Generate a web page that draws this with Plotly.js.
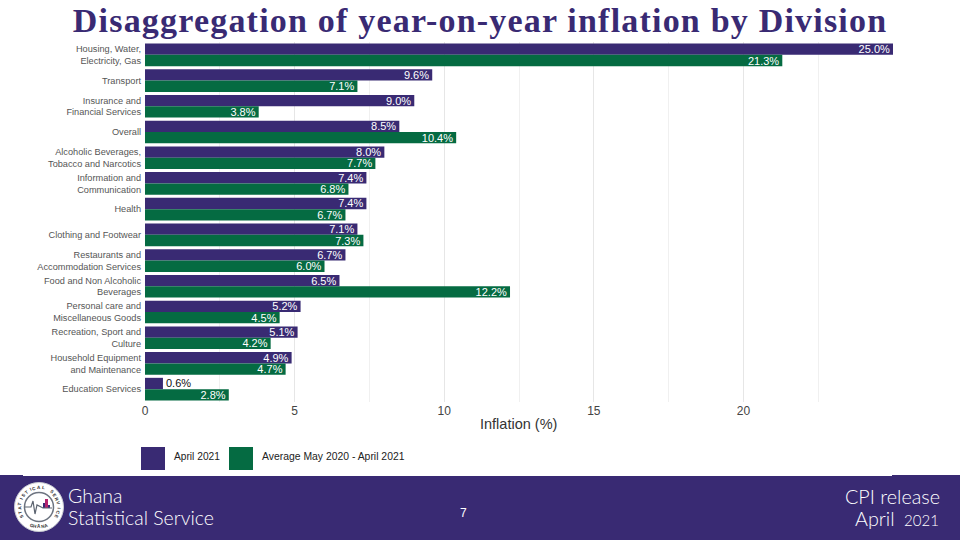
<!DOCTYPE html>
<html><head><meta charset="utf-8">
<script src="https://cdn.plot.ly/plotly-3.0.1.min.js"></script>
<style>html,body{margin:0;padding:0;background:#fff}
g.annotation[data-index="0"] text{letter-spacing:1.2px}</style></head>
<body><div id="chart" style="width:960px;height:540px"></div>
<script>
var categories = ["Housing, Water,<br>Electricity, Gas","Transport","Insurance and<br>Financial Services","Overall","Alcoholic Beverages,<br>Tobacco and Narcotics","Information and<br>Communication","Health","Clothing and Footwear","Restaurants and<br>Accommodation Services","Food and Non Alcoholic<br>Beverages","Personal care and<br>Miscellaneous Goods","Recreation, Sport and<br>Culture","Household Equipment<br>and Maintenance","Education Services"];
var april2021 = [25.0,9.6,9.0,8.5,8.0,7.4,7.4,7.1,6.7,6.5,5.2,5.1,4.9,0.6];
var average12m = [21.3,7.1,3.8,10.4,7.7,6.8,6.7,7.3,6.0,12.2,4.5,4.2,4.7,2.8];
var seriesNames = ["April 2021","Average May 2020 - April 2021"];
var xTicks = [0,5,10,15,20];
var xMinorTicks = [2.5,7.5,12.5,17.5,22.5];
var purple = "#392a73", green = "#056b42";
var W = 960, H = 540, mL = 145, mR = 67, mT = 42, mB = 138;
// page pixels -> Plotly paper fractions (paper spans the plot area)
function px(x){return (x-mL)/(W-mL-mR);}
function py(y){return (H-mB-y)/(H-mT-mB);}
function bar(vals,name,color){
  return {type:"bar",orientation:"h",y:categories,x:vals,name:name,showlegend:false,
    marker:{color:color,line:{width:0}},cliponaxis:false,
    text:vals.map(function(v){return v.toFixed(1)+"%";}),
    textposition:vals.map(function(v){return v<1?"outside":"inside";}),
    insidetextanchor:"end",constraintext:"none",textangle:0,
    insidetextfont:{family:"Liberation Sans",size:11,color:"#ffffff"},
    outsidetextfont:{family:"Liberation Sans",size:11,color:"#111111"}};
}
function rect(x0,x1,y0,y1,fill,above){
  return {type:"rect",xref:"paper",yref:"paper",x0:px(x0),x1:px(x1),y0:py(y1),y1:py(y0),fillcolor:fill,line:{width:0},layer:above?"above":"below"};
}
function circ(cx,cy,r,fill,line,lw){
  return {type:"circle",xref:"paper",yref:"paper",x0:px(cx-r),x1:px(cx+r),y0:py(cy+r),y1:py(cy-r),fillcolor:fill,line:{color:line,width:lw},layer:"above"};
}
var shapes = [
  rect(0,960,476,540,purple,true),
  rect(0,23,475,476,purple,true),
  rect(892,960,475,476,purple,true),
  rect(141,165,447,470,purple,true),
  rect(229,253,447,470,green,true),
  circ(39,507,24.5,"#ffffff","#c9ccd2",1),
  circ(39,507,14.5,"#ffffff","#6d7480",1.5),
  rect(43,45,503,508,"#392a73",true),
  rect(45,48,499,508,"#b5246e",true),
  rect(48,50,505,508,"#392a73",true)
];
var pulse = [[24.5,507],[31,507],[33,501],[35,514],[37,505],[43,508],[52,508]];
shapes.push({type:"path",xref:"paper",yref:"paper",layer:"above",line:{color:"#5c6470",width:1.2},
  path:pulse.map(function(p,i){return (i?"L":"M")+px(p[0])+","+py(p[1]);}).join(" ")});
function ann(text,x,y,size,color,family,anchor,weight,angle){
  return {text:text,xref:"paper",yref:"paper",x:px(x),y:py(y),xanchor:anchor||"left",yanchor:"middle",showarrow:false,align:anchor||"left",
    textangle:angle||0,borderpad:0,
    font:{size:size,color:color,family:family||"Liberation Sans",weight:weight||400}};
}
var annotations = [
  ann("Disaggregation of year-on-year inflation by Division",480,21,34,purple,"Liberation Serif","center",700),
  ann("Inflation (%)",518,424,14.5,"#333333","Liberation Sans","center"),
  ann(seriesNames[0],173,457,10.2,"#222222"),
  ann(seriesNames[1],261,457,10.4,"#222222"),
  ann("Ghana",67,495,19.5,"#ffffff","Lato",null,300),
  ann("Statistical Service",67,517,19.5,"#ffffff","Lato",null,300),
  ann("7",463,513,12,"#ffffff","Liberation Sans","center"),
  ann("CPI release",941,496,19.8,"#ffffff","Lato","right",300),
  ann("April <span style=\"font-size:15px\"> 2021</span>",940,518,19.8,"#ffffff","Lato","right",300)
];
// emblem lettering around the ring
function ring(word,startDeg,stepDeg,r,bottom){
  word.split("").forEach(function(ch,i){
    if(ch===" ")return;
    var d=startDeg+stepDeg*i, a=d*Math.PI/180;
    annotations.push(ann(ch,39+r*Math.sin(a),507-r*Math.cos(a),4.6,"#333333","Liberation Sans","center",700,bottom?d-180:d));
  });
}
ring("STATISTICAL SERVICE",-120,13.3,19.5,false);
ring("GHANA",202,-11,19.5,true);
var layout = {width:W,height:H,margin:{l:mL,r:mR,t:mT,b:mB},paper_bgcolor:"#fff",plot_bgcolor:"#fff",
  barmode:"group",bargap:0.12,bargroupgap:0,showlegend:false,
  xaxis:{range:[0,25],tickmode:"array",tickvals:xTicks,ticktext:xTicks.map(String),showgrid:true,gridcolor:"#e6e6e6",gridwidth:1,zeroline:false,showline:false,ticks:"",
    minor:{tickmode:"array",tickvals:xMinorTicks,showgrid:true,gridcolor:"#f0f0f0",gridwidth:1,ticks:""},
    tickfont:{family:"Liberation Sans",size:12,color:"#444444"}},
  yaxis:{autorange:"reversed",showgrid:false,zeroline:false,ticks:"",automargin:false,ticklabelstandoff:3,
    tickfont:{family:"Liberation Sans",size:9.2,color:"#555555"}},
  font:{family:"Liberation Sans"},shapes:shapes,annotations:annotations};
Plotly.newPlot("chart",[bar(april2021,seriesNames[0],purple),bar(average12m,seriesNames[1],green)],layout,{displayModeBar:false,staticPlot:true});
</script></body></html>
